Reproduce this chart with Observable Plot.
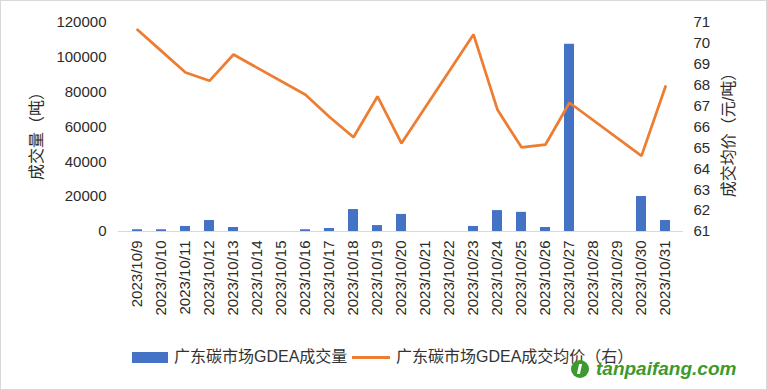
<!DOCTYPE html>
<html><head><meta charset="utf-8">
<script src="https://cdn.jsdelivr.net/npm/d3@7"></script>
<script src="https://cdn.jsdelivr.net/npm/@observablehq/plot@0.6"></script>
<style>
body{margin:0;background:#fff;}
#wrap{position:relative;width:767px;height:390px;overflow:hidden;font-family:"Liberation Sans","Noto Sans CJK SC",sans-serif;color:#333;}
#border{position:absolute;left:0;top:0;width:765px;height:388px;border:1px solid #d9d9d9;pointer-events:none;}
#chart{position:absolute;left:0;top:0;}
.lg{position:absolute;font-size:16px;line-height:20px;white-space:nowrap;}
#wm{position:absolute;left:596px;top:358px;font-size:19px;font-weight:bold;font-style:italic;color:#3c9a2c;font-family:"Liberation Sans",sans-serif;}
#logo{position:absolute;left:571px;top:360px;width:18px;height:18px;border-radius:50%;background:#3c9a2c;}
#logo:after{content:"";position:absolute;left:7px;top:4px;width:3px;height:10px;background:#fff;transform:skewX(-12deg);}
</style></head>
<body>
<div id="wrap">
  <div id="chart"></div>
  <div class="lg" style="left:132px;top:352px;width:36px;height:11px;background:#4472C4;"></div>
  <div class="lg" style="left:174px;top:347px;">广东碳市场GDEA成交量</div>
  <div class="lg" style="left:352px;top:356px;width:38px;height:3px;background:#ED7D31;"></div>
  <div class="lg" style="left:396px;top:347px;">广东碳市场GDEA成交均价（右）</div>
  <div id="logo"></div>
  <div id="wm">tanpaifang.com</div>
  <div id="border"></div>
</div>
<script>
const dates = ["2023/10/9","2023/10/10","2023/10/11","2023/10/12","2023/10/13","2023/10/14","2023/10/15","2023/10/16","2023/10/17","2023/10/18","2023/10/19","2023/10/20","2023/10/21","2023/10/22","2023/10/23","2023/10/24","2023/10/25","2023/10/26","2023/10/27","2023/10/28","2023/10/29","2023/10/30","2023/10/31"];
const volume = [1000,1000,2900,6300,2300,0,0,1000,1700,12600,3400,9800,0,0,2900,12000,11000,2300,107500,0,0,20100,6300];
const price = [70.65,69.63,68.61,68.21,69.47,null,null,67.54,66.48,65.51,67.46,65.22,null,null,70.43,66.82,65.03,65.16,67.16,null,null,64.62,67.94];
const leftTicks = [0,20000,40000,60000,80000,100000,120000];
const rightTicks = [61,62,63,64,65,66,67,68,69,70,71];
const priceMin = 61, priceMax = 71, volMax = 120000;

const rows = dates.map((d,i)=>({date:d, volume:volume[i], price:price[i]}));
const k = volMax/(priceMax-priceMin);
const toY = v => (v-priceMin)*k;

const chart = Plot.plot({
  width: 767,
  height: 335,
  marginLeft: 118,
  marginRight: 84,
  marginTop: 22,
  marginBottom: 104,
  style: {fontSize:"15px", fontFamily:"'Liberation Sans','Noto Sans CJK SC',sans-serif", color:"#2b2b2b", background:"transparent"},
  x: {domain: dates, paddingInner: 0.59, paddingOuter: 0.295, label: null},
  y: {domain: [0, volMax], label: null},
  marks: [
    Plot.barY(rows.filter(d=>d.volume>0), {x:"date", y:"volume", fill:"#4472C4"}),
    Plot.ruleY([0], {stroke:"#d9d9d9", strokeWidth:1}),
    Plot.line(rows.filter(d=>d.price!=null), {x:"date", y: d=>toY(d.price), stroke:"#ED7D31", strokeWidth:2.75, strokeLinejoin:"miter"}),
    Plot.axisY(leftTicks, {anchor:"left", tickSize:0, tickPadding:12, tickFormat:d=>String(d), label:null}),
    Plot.axisY(rightTicks.map(toY), {anchor:"right", tickSize:0, tickPadding:10, tickFormat:d=>String(Math.round(priceMin + d/k)), label:null}),
    Plot.axisX({tickRotate:-90, tickSize:0, tickPadding:9, label:null}),
    Plot.text(["成交量（吨）"], {frameAnchor:"left", dx:-82, dy:5, rotate:-90, textAnchor:"middle", fontSize:16, fill:"#2b2b2b"}),
    Plot.text(["成交均价（元/吨）"], {frameAnchor:"right", dx:45, dy:4, rotate:-90, textAnchor:"middle", fontSize:16, fill:"#2b2b2b"})
  ]
});
document.getElementById("chart").appendChild(chart);
</script>
</body></html>
